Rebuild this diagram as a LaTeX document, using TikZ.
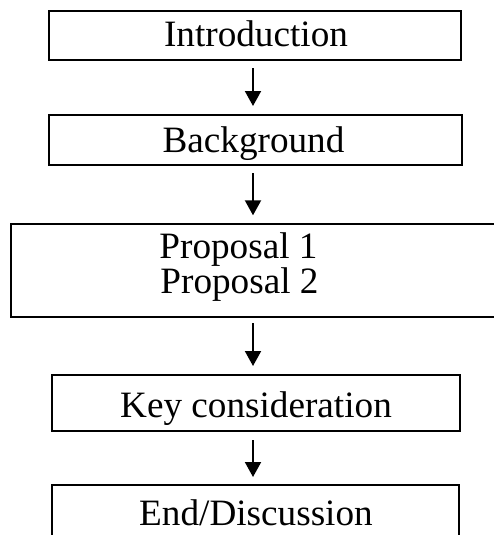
\documentclass[tikz,border=0pt]{standalone}
\usepackage{fontspec}
\setmainfont{Liberation Serif}
\usetikzlibrary{arrows.meta}
\begin{document}
\begin{tikzpicture}[x=1pt,y=-1pt,
  box/.style={draw=black, line width=2pt, inner sep=0pt, rectangle},
  label/.style={anchor=base, inner sep=0pt, font=\fontsize{37.2}{34.7}\selectfont},
  flow/.style={line width=2pt, -{Triangle[width=16pt,length=15pt]}, shorten <=7pt, shorten >=8pt}]
\useasboundingbox (0,0) rectangle (494,535);
\clip (0,0) rectangle (494,535);
\fill[white] (0,0) rectangle (494,535);
% boxes
\node[box, minimum width=412pt, minimum height=49pt] (intro) at (255.4,35.5) {};
\node[box, minimum width=412.5pt, minimum height=50pt] (back) at (255.6,140) {};
\node[box, minimum width=500pt, minimum height=93pt, anchor=west] (prop) at (9.5,270.8) {};
\node[box, minimum width=408.3pt, minimum height=56pt] (key) at (255.9,403) {};
\node[box, minimum width=407.3pt, minimum height=56pt] (end) at (255.4,513) {};
% texts
\node[label] (tintro) at (256,46.7) {Introduction};
\node[label] (tback) at (253.5,152.3) {Background};
\node[label] (tp1) at (238.5,258.3) {Proposal 1};
\node[label] (tp2) at (239.5,293) {Proposal 2};
\node[label] (tkey) at (256,417) {Key consideration};
\node[label] (tend) at (256,525) {End/Discussion};
% arrows
\coordinate (ax) at (253,0);
\draw[flow] (intro.south -| ax) -- (back.north -| ax);
\draw[flow] (back.south -| ax) -- (prop.north -| ax);
\draw[flow, shorten <=5pt] (prop.south -| ax) -- (key.north -| ax);
\draw[flow, shorten >=7pt, shorten <=8pt] (key.south -| ax) -- (end.north -| ax);
\end{tikzpicture}
\end{document}
